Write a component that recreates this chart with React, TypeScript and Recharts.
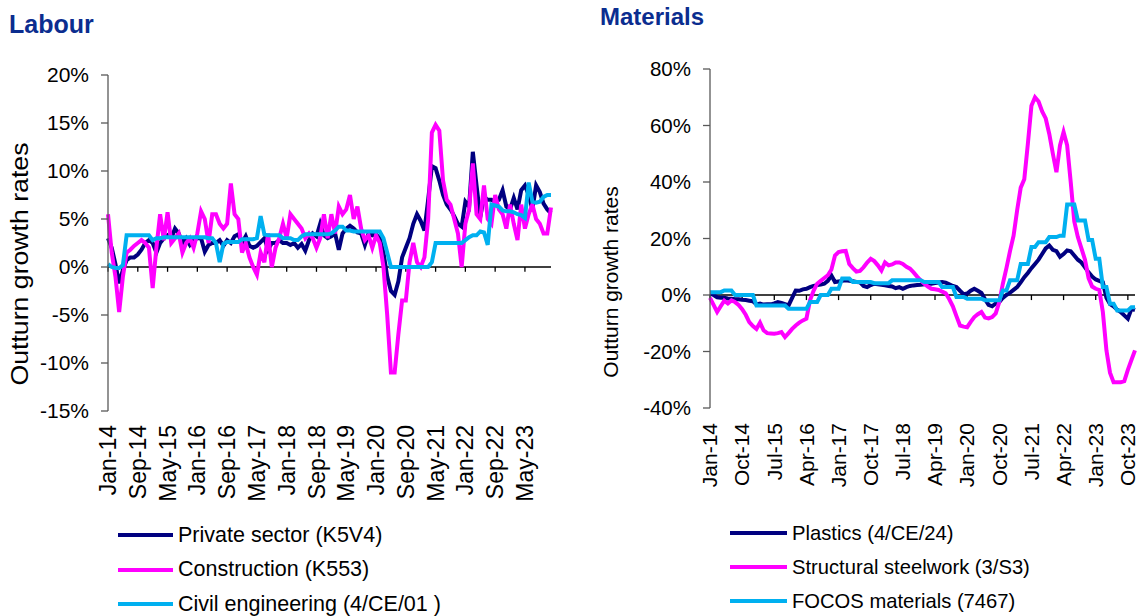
import { LineChart, Line, XAxis, YAxis, ReferenceLine } from "recharts";

const FONT = '"Liberation Sans", Arial, sans-serif';
const NAVY = "#000080";
const MAGENTA = "#FF00FF";
const SKY = "#00B0F0";

// monthly categories Jan-14 .. Dec-23
const MONTH_NAMES = ["Jan", "Feb", "Mar", "Apr", "May", "Jun", "Jul", "Aug", "Sep", "Oct", "Nov", "Dec"];
const months: string[] = [];
for (let y = 14; y <= 23; y++) {
  for (const m of MONTH_NAMES) months.push(`${m}-${y}`);
}

const labourTicks = ["Jan-14", "Sep-14", "May-15", "Jan-16", "Sep-16", "May-17", "Jan-18", "Sep-18", "May-19", "Jan-20", "Sep-20", "May-21", "Jan-22", "Sep-22", "May-23"];
const materialsTicks = ["Jan-14", "Oct-14", "Jul-15", "Apr-16", "Jan-17", "Oct-17", "Jul-18", "Apr-19", "Jan-20", "Oct-20", "Jul-21", "Apr-22", "Jan-23", "Oct-23"];

const labourAxis = [-15, -10, -5, 0, 5, 10, 15, 20];
const materialsAxis = [-40, -20, 0, 20, 40, 60, 80];

// Labour, % growth
const privateSector = [
  3.0, 2.0, 0.3, -1.7, -0.3, 0.7, 1.0, 1.0, 1.3, 1.8, 2.5, 2.8,
  2.5, 1.5, 2.5, 3.0, 3.3, 3.0, 4.0, 3.5, 2.5, 3.0, 2.3, 2.8,
  3.0, 3.0, 1.6, 2.3, 2.5, 2.5, 2.8, 2.2, 2.8, 2.5, 3.2, 3.4,
  2.5, 3.2, 2.2, 2.0, 2.2, 2.6, 3.0, 1.8, 2.5, 2.5, 2.8, 2.5,
  2.5, 2.3, 2.5, 2.0, 2.4, 1.7, 2.8, 3.5, 3.2, 4.5, 3.3, 3.0,
  3.2, 3.5, 1.8, 3.5, 4.0, 4.3, 4.0, 3.6, 3.5, 2.3, 3.5, 3.3,
  3.4, 3.0, 1.5, -1.0, -2.5, -2.9, -1.5, 1.0, 2.0, 3.0, 4.5, 5.5,
  4.8, 3.8, 7.0, 10.5, 10.3, 9.0, 7.5, 6.5, 6.0, 5.3, 4.5, 4.2,
  6.8, 6.3, 12.0, 8.5, 5.2, 7.3, 7.0, 7.0, 6.8, 7.0, 8.0, 6.3,
  6.0, 7.2, 6.0, 8.0, 8.5, 7.5, 6.0, 8.5, 7.8, 6.6, 6.0, 5.6,
];
const construction = [
  5.5, 1.5, -1.0, -4.7, -1.0, 1.5, 1.8, 2.2, 2.5, 2.8, 2.5, 2.0,
  -2.2, 2.0, 5.5, 2.8, 5.7, 2.5, 3.0, 3.5, 1.5, 2.5, 3.0, 2.0,
  3.5, 5.8, 5.0, 2.5, 5.5, 5.5, 4.5, 4.0, 4.5, 8.7, 5.5, 5.0,
  1.5, 2.5, 1.0, 0.0, -0.8, 1.5, 0.5, 3.5, 0.0, 2.0, 3.0, 4.5,
  3.0, 5.5, 5.0, 4.5, 4.0, 3.0, 3.5, 3.0, 2.0, 3.0, 5.5, 3.0,
  5.5, 3.5, 6.3, 5.5, 6.0, 7.5, 5.0, 6.3, 4.0, 2.8, 3.3, 2.0,
  3.3, 2.5, 0.0, -5.0, -11.0, -11.0, -7.0, -3.5, -3.5, 0.5, 2.5, 0.5,
  0.0, 1.0, 5.0, 14.0, 14.8, 14.2, 9.0, 7.0, 6.5, 5.0, 3.5, 0.0,
  4.5, 6.0, 10.8, 5.5, 5.0, 8.5, 5.0, 4.5, 7.5, 6.0, 5.5, 4.0,
  6.5, 4.5, 2.8, 6.5, 4.0, 5.5, 6.5, 5.0, 4.5, 3.5, 3.5, 6.2,
];
const civilEngineering = [
  0.3, 0.0, -0.1, -0.1, 0.2, 3.3, 3.3, 3.3, 3.3, 3.3, 3.3, 3.3,
  2.8, 3.0, 3.0, 3.1, 3.1, 3.1, 3.1, 3.1, 3.1, 3.1, 3.1, 3.1,
  3.1, 3.1, 3.1, 3.0, 3.0, 2.5, 0.5, 2.4, 2.6, 2.6, 2.6, 2.6,
  2.9, 2.9, 2.9, 2.9, 3.0, 5.3, 3.4, 3.3, 3.3, 3.3, 3.3, 3.0,
  3.0, 3.0, 2.8, 2.8, 3.2, 3.4, 3.4, 3.4, 3.4, 3.4, 3.4, 3.4,
  3.5, 3.8, 4.2, 4.2, 3.8, 3.8, 3.7, 3.7, 3.7, 3.7, 3.7, 3.7,
  3.7, 3.7, 3.0, 1.5, 0.0, 0.0, 0.0, 0.0, 0.0, 0.0, 0.0, 0.0,
  0.0, 0.0, 0.0, 0.5, 2.5, 2.5, 2.5, 2.5, 2.5, 2.5, 2.5, 2.5,
  2.8, 3.1, 3.3, 3.3, 3.7, 3.6, 2.3, 6.5, 6.4, 6.3, 5.9, 5.8,
  5.8, 5.7, 5.5, 5.4, 5.1, 8.8, 6.8, 6.7, 6.8, 7.3, 7.5, 7.5,
];

// Materials, % growth
const plastics = [
  0.5, 0.0, -0.8, -1.0, -1.0, -1.2, -1.3, -1.5, -1.5, -1.7, -1.8, -2.0,
  -2.2, -3.3, -3.0, -3.4, -3.3, -3.3, -3.0, -2.5, -2.8, -3.2, -3.7, -1.0,
  1.6, 1.5, 2.0, 2.2, 2.8, 3.2, 3.5, 3.7, 4.0, 5.0, 6.9, 4.6,
  4.8, 5.0, 5.2, 5.0, 4.9, 4.6, 4.5, 3.2, 2.8, 3.5, 4.0, 3.8,
  3.6, 3.4, 3.2, 3.0, 2.4, 2.8, 2.2, 2.8, 3.2, 3.4, 3.5, 3.6,
  3.8, 4.0, 4.0, 4.2, 4.4, 4.6, 4.4, 3.8, 3.2, 2.8, 1.5, 0.3,
  0.5, 1.5, 2.2, 1.5, 0.7, -1.5, -3.5, -4.0, -3.0, -2.5, -1.0, 0.0,
  0.8, 1.8, 2.8, 4.5, 6.3, 7.8, 9.5, 11.0, 12.5, 14.5, 16.5, 17.5,
  16.0, 15.5, 13.5, 14.5, 15.8, 15.5, 14.0, 12.5, 11.5, 9.8, 8.0, 6.5,
  5.5, 5.0, 4.5, -1.0, -3.2, -4.0, -5.2, -6.0, -7.2, -8.4, -4.9, -5.3,
];
const steelwork = [
  -1.0, -3.5, -6.0, -4.0, -2.0, -3.0, -1.9, -2.5, -3.5, -5.0, -7.0, -9.6,
  -11.0, -12.0, -9.8, -12.5, -13.5, -13.6, -13.7, -13.5, -13.1, -14.9, -13.5, -12.0,
  -10.8, -9.8, -9.0, -8.4, -1.9, 1.5, 4.0, 5.0, 6.0, 7.0, 9.0, 14.0,
  15.2, 15.5, 15.6, 11.0, 9.5, 8.3, 8.5, 9.8, 11.5, 12.8, 12.0, 10.5,
  8.7, 11.5, 10.5, 10.8, 11.5, 11.5, 11.0, 10.0, 9.3, 8.0, 6.5, 5.2,
  4.0, 3.0, 2.2, 2.0, 1.8, 1.2, 0.6, -1.5, -4.0, -7.5, -10.8, -11.2,
  -11.4, -9.5, -7.8, -6.8, -6.0, -8.0, -8.3, -7.8, -6.5, -2.5, 4.0, 9.5,
  15.5, 21.0, 30.0, 38.0, 41.0, 53.5, 67.0, 70.0, 68.5, 65.0, 62.5, 57.0,
  50.0, 43.5, 53.0, 57.7, 53.0, 40.0, 26.0, 20.5, 16.5, 12.5, 6.0, 3.0,
  2.2, 1.8, -6.0, -19.6, -27.5, -30.9, -30.9, -30.9, -30.5, -26.5, -23.0, -19.6,
];
const focos = [
  1.0, 1.0, 1.0, 1.0, 1.6, 1.6, 1.6, 0.0, 0.0, 0.0, 0.0, 0.0,
  0.0, -3.7, -3.7, -3.7, -3.7, -3.7, -3.7, -3.7, -3.7, -3.7, -4.9, -4.9,
  -4.9, -4.9, -4.9, -4.9, -2.5, -2.5, -2.5, 0.0, 0.0, 0.0, 2.2, 2.2,
  2.2, 5.8, 5.8, 5.8, 4.6, 4.6, 4.6, 4.6, 4.6, 4.6, 4.2, 4.2,
  4.2, 4.2, 4.2, 5.2, 5.2, 5.2, 5.2, 5.2, 5.2, 5.2, 5.2, 5.2,
  4.6, 4.6, 4.6, 4.6, 4.6, 2.8, 2.8, 2.8, 2.8, -0.7, -0.7, -0.7,
  -1.3, -1.3, -1.3, -1.3, -1.3, -1.9, -1.9, -1.9, -1.9, -1.9, 1.6, 1.6,
  5.2, 5.2, 5.2, 11.0, 11.0, 11.0, 17.0, 17.0, 18.7, 18.7, 18.7, 20.5,
  20.5, 20.5, 21.0, 21.0, 32.0, 32.0, 32.0, 26.4, 26.4, 26.4, 19.5, 19.5,
  12.8, 12.8, 2.8, 2.8, -3.1, -3.1, -5.5, -5.5, -5.5, -5.5, -4.3, -4.3,
];

type Series = { key: string; name: string; color: string; values: number[] };

const labourSeries: Series[] = [
  { key: "private", name: "Private sector (K5V4)", color: NAVY, values: privateSector },
  { key: "construction", name: "Construction (K553)", color: MAGENTA, values: construction },
  { key: "civil", name: "Civil engineering (4/CE/01 )", color: SKY, values: civilEngineering },
];
const materialsSeries: Series[] = [
  { key: "plastics", name: "Plastics (4/CE/24)", color: NAVY, values: plastics },
  { key: "steel", name: "Structural steelwork (3/S3)", color: MAGENTA, values: steelwork },
  { key: "focos", name: "FOCOS materials (7467)", color: SKY, values: focos },
];

function buildRows(series: Series[]) {
  return months.map((month, i) => {
    const row: Record<string, string | number> = { month };
    series.forEach((s) => (row[s.key] = s.values[i]));
    return row;
  });
}

// rotated category label, reading bottom-to-top and hanging below the plot
const monthTick = (fontSize: number) => (props: any) => {
  const { x, y, payload } = props;
  return (
    <text
      x={x}
      y={y}
      transform={`rotate(-90 ${x} ${y})`}
      textAnchor="end"
      dy="0.35em"
      fontSize={fontSize}
      fontFamily={FONT}
      fill="#000"
    >
      {payload.value}
    </text>
  );
};

// vertical axis title; stretch > 1 lengthens it along the reading direction
const axisTitle = (cx: number, cy: number, fontSize: number, stretch: number) => () => (
  <text
    x={0}
    y={0}
    transform={`translate(${cx} ${cy}) rotate(-90) scale(${stretch} 1)`}
    textAnchor="middle"
    dominantBaseline="central"
    fontSize={fontSize}
    fontFamily={FONT}
    fill="#000"
  >
    Outturn growth rates
  </text>
);

type PanelProps = {
  series: Series[];
  ticks: string[];
  yTicks: number[];
  axisWidth: number;
  plotWidth: number;
  plotHeight: number;
  top: number;
  right: number;
  height: number;
  markDepth: number;
  labelGap: number;
  fontSize: number;
  tickFont: number;
  title: { x: number; y: number; size: number; stretch: number };
};

function Panel(p: PanelProps) {
  const rows = buildRows(p.series);
  return (
    <LineChart
      width={p.axisWidth + p.plotWidth + p.right}
      height={p.height}
      data={rows}
      margin={{ top: p.top, right: p.right, left: 0, bottom: 0 }}
    >
      <XAxis
        dataKey="month"
        ticks={p.ticks}
        interval={0}
        axisLine={false}
        tickLine={false}
        tickSize={0}
        tickMargin={p.labelGap}
        height={p.height - p.top - p.plotHeight}
        tick={monthTick(p.tickFont)}
      />
      <YAxis
        domain={[p.yTicks[0], p.yTicks[p.yTicks.length - 1]]}
        ticks={p.yTicks}
        interval={0}
        width={p.axisWidth}
        tickFormatter={(v) => `${v}%`}
        tick={{ fontSize: p.fontSize, fill: "#000", fontFamily: FONT }}
        tickSize={7}
        tickMargin={12}
        axisLine={{ stroke: "#595959", strokeWidth: 1.3 }}
        tickLine={{ stroke: "#595959", strokeWidth: 1.3 }}
        label={{ content: axisTitle(p.title.x, p.title.y, p.title.size, p.title.stretch) }}
      />
      <ReferenceLine y={0} stroke="#000" strokeWidth={1.3} />
      {p.ticks.map((t) => (
        <ReferenceLine
          key={t}
          segment={[
            { x: t, y: 0 },
            { x: t, y: -p.markDepth },
          ]}
          stroke="#000"
          strokeWidth={1.3}
        />
      ))}
      {p.series.map((s) => (
        <Line
          key={s.key}
          dataKey={s.key}
          name={s.name}
          stroke={s.color}
          strokeWidth={4}
          dot={false}
          type="linear"
          isAnimationActive={false}
        />
      ))}
    </LineChart>
  );
}

function LegendBlock({ series, left, top, lineWidth, fontSize, rowHeight }: { series: Series[]; left: number; top: number; lineWidth: number; fontSize: number; rowHeight: number }) {
  return (
    <div style={{ position: "absolute", left, top }}>
      {series.map((s) => (
        <div key={s.key} style={{ display: "flex", alignItems: "center", height: rowHeight, fontSize, fontFamily: FONT, color: "#000" }}>
          <span style={{ display: "inline-block", width: lineWidth, height: 4, background: s.color, marginRight: 5 }} />
          <span>{s.name}</span>
        </div>
      ))}
    </div>
  );
}

export default function App() {
  return (
    <div style={{ position: "fixed", left: 0, top: 0, width: 1141, height: 616, background: "#fff", fontFamily: FONT, overflow: "hidden" }}>
      <div style={{ position: "absolute", left: 9, top: 10, fontSize: 25, fontWeight: "bold", color: "#0B2D8F" }}>Labour</div>
      <div style={{ position: "absolute", left: 600, top: 3, fontSize: 24, fontWeight: "bold", color: "#0B2D8F" }}>Materials</div>

      <div style={{ position: "absolute", left: 0, top: 0 }}>
        <Panel
          series={labourSeries}
          ticks={labourTicks}
          yTicks={labourAxis}
          axisWidth={108}
          plotWidth={443}
          plotHeight={336}
          top={75}
          right={9}
          height={520}
          markDepth={0.5}
          labelGap={14}
          fontSize={21}
          tickFont={23}
          title={{ x: 20, y: 264, size: 23, stretch: 1.16 }}
        />
      </div>
      <div style={{ position: "absolute", left: 580, top: 0 }}>
        <Panel
          series={materialsSeries}
          ticks={materialsTicks}
          yTicks={materialsAxis}
          axisWidth={130}
          plotWidth={425}
          plotHeight={339}
          top={69}
          right={6}
          height={520}
          markDepth={1.8}
          labelGap={15}
          fontSize={20.5}
          tickFont={21}
          title={{ x: 30, y: 282, size: 21, stretch: 1 }}
        />
      </div>

      <LegendBlock series={labourSeries} left={118} top={518} lineWidth={55} fontSize={21.5} rowHeight={34.5} />
      <LegendBlock series={materialsSeries} left={730} top={516} lineWidth={57} fontSize={20.2} rowHeight={34} />
    </div>
  );
}
